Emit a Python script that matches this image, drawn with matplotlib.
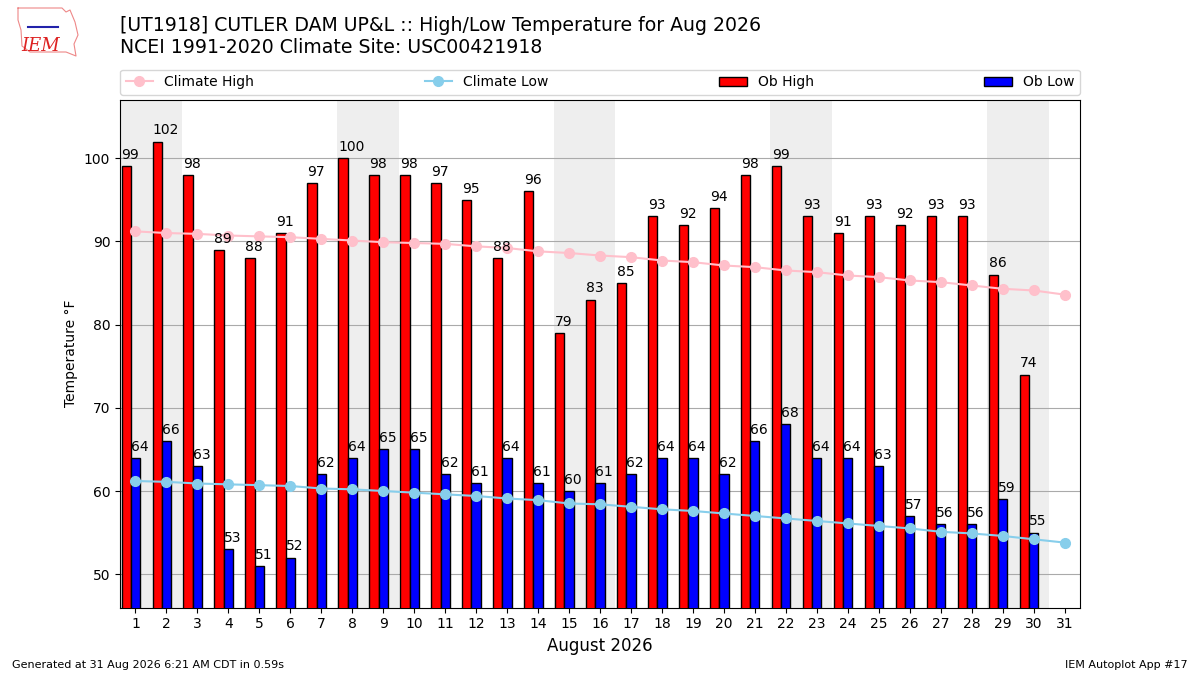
import matplotlib
matplotlib.use("Agg")
import matplotlib.pyplot as plt
import numpy as np

# data
days = np.arange(1, 32)
ob_high = [99, 102, 98, 89, 88, 91, 97, 100, 98, 98, 97, 95, 88, 96, 79,
           83, 85, 93, 92, 94, 98, 99, 93, 91, 93, 92, 93, 93, 86, 74]
ob_low = [64, 66, 63, 53, 51, 52, 62, 64, 65, 65, 62, 61, 64, 61, 60,
          61, 62, 64, 64, 62, 66, 68, 64, 64, 63, 57, 56, 56, 59, 55]
clim_high = [91.2, 91.0, 90.9, 90.7, 90.6, 90.5, 90.3, 90.1, 89.9, 89.8,
             89.7, 89.4, 89.2, 88.8, 88.6, 88.3, 88.1, 87.7, 87.5, 87.1,
             86.9, 86.5, 86.3, 85.9, 85.7, 85.3, 85.1, 84.7, 84.3, 84.1, 83.6]
clim_low = [61.2, 61.1, 60.9, 60.8, 60.7, 60.6, 60.3, 60.2, 60.0, 59.8,
            59.6, 59.4, 59.1, 58.9, 58.5, 58.4, 58.1, 57.8, 57.6, 57.3,
            57.0, 56.7, 56.4, 56.1, 55.8, 55.5, 55.1, 54.9, 54.6, 54.2, 53.8]
weekends = [1, 8, 15, 22, 29]  # saturdays

title = "[UT1918] CUTLER DAM UP&L :: High/Low Temperature for Aug 2026\n" \
        "NCEI 1991-2020 Climate Site: USC00421918"

fig = plt.figure(figsize=(12, 6.75), dpi=100)
ax = fig.add_axes([0.1, 0.1, 0.8, 0.752])

# weekend shading
for d in weekends:
    ax.axvspan(d - 0.5, d + 1.5, color='#eeeeee', zorder=0, lw=0)

ob_days = days[:len(ob_high)]
ax.plot(days, clim_high, color='pink', marker='o', markersize=7, lw=1.5,
        label='Climate High', zorder=4)
ax.plot(days, clim_low, color='skyblue', marker='o', markersize=7, lw=1.5,
        label='Climate Low', zorder=4)
ax.bar(ob_days - 0.3, ob_high, width=0.3, color='r', edgecolor='k',
       label='Ob High', zorder=3)
ax.bar(ob_days, ob_low, width=0.3, color='b', edgecolor='k',
       label='Ob Low', zorder=3)

for d, v in zip(ob_days, ob_high):
    ax.text(d - 0.45, v + 0.5, str(v), ha='left', va='bottom', fontsize=10, zorder=5)
for d, v in zip(ob_days, ob_low):
    ax.text(d - 0.15, v + 0.5, str(v), ha='left', va='bottom', fontsize=10, zorder=5)

ax.set_xlim(0.5, 31.5)
ax.set_ylim(46, 107)
ax.set_xticks(days)
ax.set_yticks([50, 60, 70, 80, 90, 100])
ax.yaxis.grid(True, color='#aaaaaa', lw=0.8, zorder=1)
ax.set_axisbelow(True)
ax.set_ylabel("Temperature °F")
ax.set_xlabel("August 2026", fontsize=12)

ax.legend(ncol=4, mode='expand', loc='lower left',
          bbox_to_anchor=(0, 1.01, 1, 0.05), borderaxespad=0, fontsize=10)

fig.text(0.1, 0.915, title, fontsize=13.6, ha='left', va='bottom')

# rough stand-in for the IEM logo
fig.text(0.0175, 0.925, "IEM", color='#dd2222', fontsize=13, style='italic',
         family='DejaVu Serif')
logo_x = np.array([18, 62, 66, 70, 75, 78, 74, 76, 66, 30, 22, 21, 18, 18]) / 1200
logo_y = 1 - np.array([8, 8, 12, 10, 22, 35, 44, 56, 52, 52, 46, 30, 20, 8]) / 675
fig.add_artist(plt.Line2D(logo_x, logo_y, color='#ee8888', lw=0.8))
fig.add_artist(plt.Line2D(np.array([28, 58]) / 1200, 1 - np.array([27, 27]) / 675,
                          color='#2222aa', lw=1.5))

fig.text(0.01, 0.01, "Generated at 31 Aug 2026 6:21 AM CDT in 0.59s", fontsize=8)
fig.text(0.99, 0.01, "IEM Autoplot App #17", fontsize=8, ha='right')

fig.savefig("out.png")
